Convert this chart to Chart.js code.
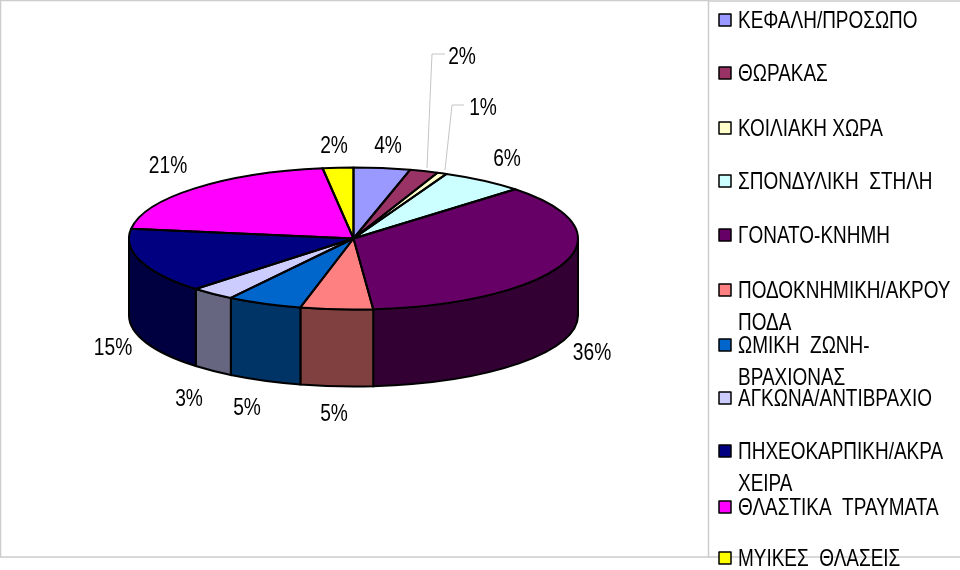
<!DOCTYPE html>
<html lang="el">
<head>
  <meta charset="utf-8">
  <title>Pie</title>
  <script src="https://cdn.jsdelivr.net/npm/chart.js@4"></script>
  <style>
    html, body { margin: 0; padding: 0; background: #fff; overflow: hidden; }
    canvas { display: block; }
  </style>
</head>
<body>
<canvas id="mycanvas" width="960" height="570"></canvas>
<script>
const categories = ["ΚΕΦΑΛΗ/ΠΡΟΣΩΠΟ", "ΘΩΡΑΚΑΣ", "ΚΟΙΛΙΑΚΗ ΧΩΡΑ", "ΣΠΟΝΔΥΛΙΚΗ  ΣΤΗΛΗ", "ΓΟΝΑΤΟ-ΚΝΗΜΗ",
  "ΠΟΔΟΚΝΗΜΙΚΗ/ΑΚΡΟΥ|ΠΟΔΑ", "ΩΜΙΚΗ  ΖΩΝΗ-|ΒΡΑΧΙΟΝΑΣ", "ΑΓΚΩΝΑ/ΑΝΤΙΒΡΑΧΙΟ", "ΠΗΧΕΟΚΑΡΠΙΚΗ/ΑΚΡΑ|ΧΕΙΡΑ",
  "ΘΛΑΣΤΙΚΑ  ΤΡΑΥΜΑΤΑ", "ΜΥΙΚΕΣ  ΘΛΑΣΕΙΣ"];
// labels show them rounded
const values = [4.05, 2.05, 0.7, 6, 35.8, 5.2, 5.4, 3.2, 14.8, 20.6, 2.2];
const topColors = ["#9999ff", "#993366", "#ffffcc", "#ccffff", "#660066", "#ff8080", "#0066cc", "#ccccff", "#000080", "#ff00ff", "#ffff00"];
const sideColors = ["#4d4d80", "#4d1a33", "#808066", "#668080", "#330033", "#804040", "#003366", "#666680", "#000040", "#800080", "#808000"];

// hand placed text, same as the original sheet
const labelXY = [[388,145],[462,56],[483,107],[507,158],[592,352],[334,413],[247,407],[189,398],[113,347],[168,165],[334,145]];
const legendY = [20,73,128,181,235,290,345,398,451,507,558];
const legendLineGap = 32;
const leaders = [[[445,54],[432,54],[427,168]], [[464,105],[452,105],[445,170]]];

const squash = 0.316;   // top of the pie seen from an angle
const depth = 77;

function squeezedText(ctx, text, x, y, size, sx, align) {
  ctx.save();
  ctx.font = size + 'px "Liberation Sans"';
  ctx.fillStyle = "#000";
  ctx.textBaseline = "middle";
  ctx.textAlign = align;
  ctx.translate(x, y);
  ctx.scale(sx, 1);
  ctx.fillText(text, 0, 0);
  ctx.restore();
}

const pie3d = {
  id: "pie3d",
  beforeDatasetsDraw(chart) {
    const ctx = chart.ctx;
    const arcs = chart.getDatasetMeta(0).data;
    const cx = arcs[0].x, cy = arcs[0].y, r = arcs[0].outerRadius, ry = r * squash;

    // frame
    ctx.strokeStyle = "#cccccc";
    ctx.lineWidth = 1.5;
    ctx.strokeRect(0.5, 0.5, 708, 556.5);
    ctx.beginPath();
    ctx.moveTo(708, 1); ctx.lineTo(960, 1);
    ctx.moveTo(708, 557); ctx.lineTo(960, 557);
    ctx.stroke();

    // side wall, only what faces the viewer
    arcs.forEach(function (arc, i) {
      const a0 = Math.max(arc.startAngle, 0), a1 = Math.min(arc.endAngle, Math.PI);
      if (a1 <= a0) return;
      ctx.beginPath();
      ctx.ellipse(cx, cy, r, ry, 0, a0, a1);
      ctx.ellipse(cx, cy + depth, r, ry, 0, a1, a0, true);
      ctx.closePath();
      ctx.fillStyle = sideColors[i];
      ctx.fill();
      ctx.strokeStyle = "#000";
      ctx.lineWidth = 2;
      ctx.stroke();
    });

    ctx.save();
    ctx.translate(0, cy);
    ctx.scale(1, squash);
    ctx.translate(0, -cy);
  },
  afterDatasetsDraw(chart) {
    const ctx = chart.ctx;
    ctx.restore();
    const arcs = chart.getDatasetMeta(0).data;

    // outlines: path squashed, pen not
    arcs.forEach(function (arc) {
      ctx.save();
      ctx.translate(arc.x, arc.y);
      ctx.scale(1, squash);
      ctx.beginPath();
      ctx.moveTo(0, 0);
      ctx.arc(0, 0, arc.outerRadius, arc.startAngle, arc.endAngle);
      ctx.closePath();
      ctx.restore();
      ctx.strokeStyle = "#000";
      ctx.lineWidth = 2;
      ctx.lineJoin = "round";
      ctx.stroke();
    });

    // leader lines
    ctx.strokeStyle = "#c4c4c4";
    ctx.lineWidth = 1;
    leaders.forEach(function (l) {
      ctx.beginPath();
      ctx.moveTo(l[0][0], l[0][1]);
      ctx.lineTo(l[1][0], l[1][1]);
      ctx.lineTo(l[2][0], l[2][1]);
      ctx.stroke();
    });

    values.forEach(function (v, i) {
      squeezedText(ctx, Math.round(v) + "%", labelXY[i][0], labelXY[i][1] + 1, 24, 0.8, "center");
    });

    // legend
    categories.forEach(function (c, i) {
      const y = legendY[i];
      ctx.fillStyle = topColors[i];
      ctx.strokeStyle = "#000";
      ctx.lineWidth = 1.5;
      ctx.fillRect(719, y - 6, 12, 12);
      ctx.strokeRect(719, y - 6, 12, 12);
      c.split("|").forEach(function (line, k) {
        squeezedText(ctx, line, 738, y + 1 + k * legendLineGap, 24, 0.79, "left");
      });
    });
  }
};

new Chart(document.getElementById("mycanvas"), {
  type: "pie",
  data: {
    labels: categories,
    datasets: [{ data: values, backgroundColor: topColors, borderWidth: 0 }]
  },
  options: {
    responsive: false,
    animation: false,
    layout: { padding: { left: 129, right: 382, top: 14, bottom: 107 } },
    plugins: { legend: { display: false }, tooltip: { enabled: false } }
  },
  plugins: [pie3d]
});
</script>
</body>
</html>
